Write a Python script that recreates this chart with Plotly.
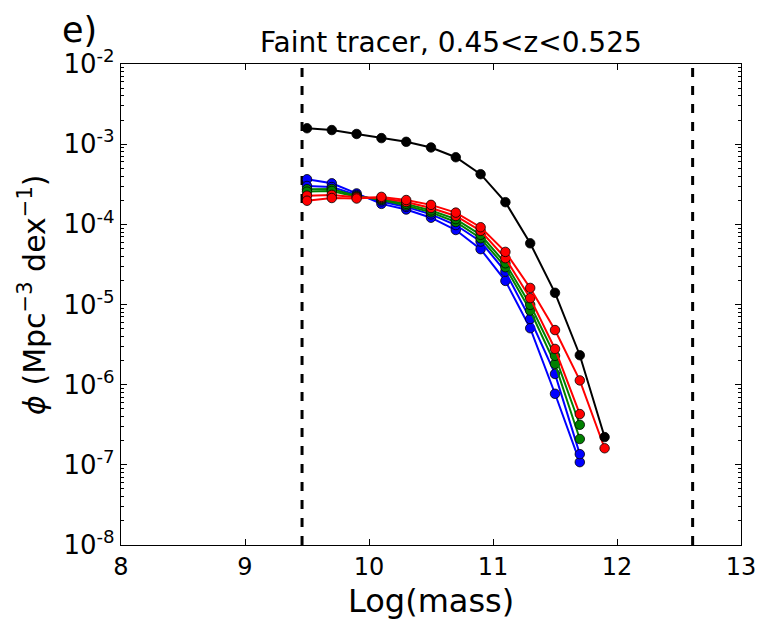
import plotly.graph_objects as go

mass = [9.5, 9.7, 9.9, 10.1, 10.3, 10.5, 10.7, 10.9, 11.1, 11.3, 11.5, 11.7, 11.9]

phi_black = [1.58e-3, 1.50e-3, 1.34e-3, 1.19e-3, 1.07e-3, 9.1e-4, 6.87e-4, 4.22e-4,
             1.89e-4, 5.8e-5, 1.40e-5, 2.33e-6, 2.22e-7]
phi_blue1 = [3.65e-4, 3.25e-4, 2.43e-4, 1.80e-4, 1.53e-4, 1.21e-4, 8.5e-5, 4.9e-5,
             1.97e-5, 5.06e-6, 7.7e-7, 1.08e-7]
phi_blue2 = [3.01e-4, 2.92e-4, 2.33e-4, 1.93e-4, 1.65e-4, 1.33e-4, 9.8e-5, 6.1e-5,
             2.57e-5, 6.6e-6, 1.36e-6, 1.36e-7]
phi_green1 = [2.74e-4, 2.76e-4, 2.26e-4, 2.01e-4, 1.72e-4, 1.41e-4, 1.07e-4, 6.7e-5,
              2.92e-5, 8.4e-6, 1.82e-6, 2.1e-7]
phi_green2 = [2.56e-4, 2.61e-4, 2.20e-4, 2.07e-4, 1.80e-4, 1.49e-4, 1.16e-4, 7.4e-5,
              3.27e-5, 9.9e-6, 2.29e-6, 3.16e-7]
phi_red2 = [2.28e-4, 2.33e-4, 2.17e-4, 2.13e-4, 1.90e-4, 1.60e-4, 1.27e-4, 8.3e-5,
            3.78e-5, 1.20e-5, 2.79e-6, 4.3e-7]
phi_red1 = [1.97e-4, 2.13e-4, 2.10e-4, 2.20e-4, 2.01e-4, 1.75e-4, 1.40e-4, 9.2e-5,
            4.53e-5, 1.61e-5, 4.8e-6, 1.13e-6, 1.61e-7]

mass_limits = [9.46, 12.61]

x_ticks = [8, 9, 10, 11, 12, 13]
y_tickvals = [1e-8, 1e-7, 1e-6, 1e-5, 1e-4, 1e-3, 1e-2]
y_ticktext = ["10<sup>-8</sup>", "10<sup>-7</sup>", "10<sup>-6</sup>", "10<sup>-5</sup>",
              "10<sup>-4</sup>", "10<sup>-3</sup>", "10<sup>-2</sup>"]

FONT = "DejaVu Sans"

fig = go.Figure()

for xv in mass_limits:
    fig.add_trace(go.Scatter(x=[xv, xv], y=[1e-8, 1e-2], mode="lines",
                             line=dict(color="black", width=3, dash="dash"),
                             showlegend=False, hoverinfo="skip"))

series = [
    (phi_blue1, "#0000ff"),
    (phi_blue2, "#0000ff"),
    (phi_green1, "#008000"),
    (phi_green2, "#008000"),
    (phi_red2, "#ff0000"),
    (phi_red1, "#ff0000"),
    (phi_black, "#000000"),
]
for vals, col in series:
    fig.add_trace(go.Scatter(
        x=mass[:len(vals)], y=vals, mode="lines+markers",
        line=dict(color=col, width=2),
        marker=dict(symbol="circle", size=9.5, color=col, line=dict(color="black", width=0.8)),
        showlegend=False))

fig.update_layout(
    width=768, height=627,
    margin=dict(l=121, r=27, t=64, b=82),
    paper_bgcolor="white", plot_bgcolor="white",
    font=dict(family=FONT, color="black"),
    xaxis=dict(range=[8, 13], tickvals=x_ticks, ticktext=[str(t) for t in x_ticks],
               ticks="inside", ticklen=6, tickwidth=1, tickcolor="black",
               showline=True, linecolor="black", linewidth=1.2, mirror="allticks",
               showgrid=False, zeroline=False, tickfont=dict(size=24, family=FONT)),
    yaxis=dict(type="log", range=[-8, -2], tickvals=y_tickvals, ticktext=y_ticktext,
               ticks="inside", ticklen=6, tickwidth=1, tickcolor="black",
               showline=True, linecolor="black", linewidth=1.2, mirror="allticks",
               showgrid=False, zeroline=False, tickfont=dict(size=26, family=FONT),
               minor=dict(ticks="inside", ticklen=3, tickcolor="black", dtick="D1",
                          showgrid=False)),
    annotations=[
        dict(text="Faint tracer, 0.45<z<0.525", xref="paper", yref="paper",
             x=(451 - 121) / 620, y=1.0, yshift=22, xanchor="center", yanchor="middle",
             showarrow=False, font=dict(size=28, family=FONT)),
        dict(text="e)", xref="paper", yref="paper", x=(60 - 121) / 620, y=1.0, yshift=34,
             xanchor="left", yanchor="middle", showarrow=False, font=dict(size=35, family=FONT)),
        dict(text="Log(mass)", xref="paper", yref="paper", x=0.5, y=0, yshift=-56,
             xanchor="center", yanchor="middle",
             showarrow=False, font=dict(size=32, family=FONT)),
        dict(text="<i>ϕ</i> (Mpc<sup>−3</sup> dex<sup>−1</sup>)", xref="paper", yref="paper",
             x=(33 - 121) / 620, y=0.52, textangle=-90, xanchor="center", yanchor="middle",
             showarrow=False, font=dict(size=30, family=FONT)),
    ],
)

fig.write_html("out.html")
